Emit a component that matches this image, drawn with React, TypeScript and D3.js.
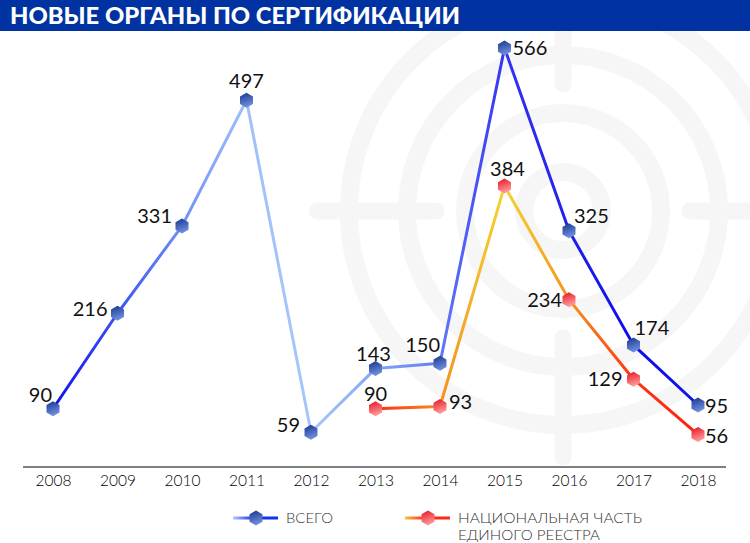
import React, { useEffect, useRef } from "react";
import * as d3 from "d3";

// data
const years = ["2008", "2009", "2010", "2011", "2012", "2013", "2014", "2015", "2016", "2017", "2018"];
const totalValues = [90, 216, 331, 497, 59, 143, 150, 566, 325, 174, 95];
const nationalYears = ["2013", "2014", "2015", "2016", "2017", "2018"];
const nationalValues = [90, 93, 384, 234, 129, 56];

const titleText = "НОВЫЕ ОРГАНЫ ПО СЕРТИФИКАЦИИ";
const totalName = "ВСЕГО";
const nationalName = ["НАЦИОНАЛЬНАЯ ЧАСТЬ", "ЕДИНОГО РЕЕСТРА"];

// line colour at each point (segments fade between them)
const totalColors = ["#1010ee", "#3a52f5", "#6f90f8", "#a0c0f9", "#a8c6fa", "#86a6f8", "#6478f6", "#3434f4", "#2020f0", "#0c0cee", "#1414e8"];
const nationalColors = ["#ff2c12", "#f5901f", "#f2d535", "#f5931f", "#ff3412", "#ff2010"];

// label placement: [dx, dy, anchor]
const totalLabelPos: [number, number, string][] = [
  [-1, -7, "end"], [-10, 3, "end"], [-10, -3, "end"], [0, -12, "middle"], [-11, 0, "end"],
  [-2, -8, "middle"], [0, -11, "end"], [8, 7, "start"], [5, -8, "start"], [1, -10, "start"], [7, 8, "start"],
];
const nationalLabelPos: [number, number, string][] = [
  [0, -8, "middle"], [9, 2, "start"], [3, -10, "middle"], [-7, 7, "end"], [-11, 7, "end"], [7, 8, "start"],
];

const W = 750;
const H = 543;
const FONT = "Lato, 'Open Sans', 'DejaVu Sans', sans-serif";

const hexPath = (r: number) => {
  const pts = d3.range(6).map((k) => {
    const a = ((-90 + 60 * k) * Math.PI) / 180;
    return [r * Math.cos(a), r * Math.sin(a)];
  });
  return "M" + pts.map((p) => p.join(",")).join("L") + "Z";
};

const App = () => {
  const ref = useRef<SVGSVGElement>(null);

  useEffect(() => {
    const svg = d3.select(ref.current);
    svg.selectAll("*").remove();

    const x = d3.scalePoint().domain(years).range([53, 698]);
    const y = d3.scaleLinear().domain([0, 566]).range([477, 48]);

    const defs = svg.append("defs");
    const addVGrad = (id: string, top: string, bottom: string) => {
      const g = defs.append("linearGradient").attr("id", id).attr("x1", 0).attr("y1", 0).attr("x2", 0.3).attr("y2", 1);
      g.append("stop").attr("offset", "0%").attr("stop-color", top);
      g.append("stop").attr("offset", "100%").attr("stop-color", bottom);
    };
    addVGrad("hexBlue", "#17338f", "#6f8fdc");
    addVGrad("hexRed", "#e4121e", "#ff9a9a");

    svg.append("rect").attr("width", W).attr("height", H).attr("fill", "#ffffff");

    // target watermark
    const wm = svg.append("g").attr("stroke", "#f6f6f6").attr("stroke-width", 18).attr("fill", "none");
    const cx = 563, cy = 211;
    [39, 98, 156, 214].forEach((r) => wm.append("circle").attr("cx", cx).attr("cy", cy).attr("r", r));
    [[-1, 0], [1, 0], [0, -1], [0, 1]].forEach(([dx, dy]) => {
      wm.append("line")
        .attr("x1", cx + dx * 127).attr("y1", cy + dy * 127)
        .attr("x2", cx + dx * 246).attr("y2", cy + dy * 246)
        .attr("stroke-width", 17)
        .attr("stroke-linecap", "round");
    });

    // header
    svg.append("rect").attr("x", 0).attr("y", 0).attr("width", W).attr("height", 31).attr("fill", "#0033a1");
    svg.append("text")
      .attr("x", 10).attr("y", 24)
      .attr("fill", "#ffffff")
      .attr("font-family", FONT)
      .attr("font-weight", 900)
      .attr("font-size", 22)
      .attr("textLength", 450)
      .attr("lengthAdjust", "spacingAndGlyphs")
      .text(titleText);

    // x axis
    svg.append("line")
      .attr("x1", (x(years[0]) as number) - 30).attr("x2", (x(years[years.length - 1]) as number) + 28)
      .attr("y1", 467).attr("y2", 467)
      .attr("stroke", "#555").attr("stroke-width", 1.5);
    const axis = svg.append("g")
      .attr("transform", "translate(0,467)")
      .call(d3.axisBottom(x).tickSize(0).tickPadding(8));
    axis.select(".domain").remove();
    axis.selectAll("text")
      .attr("font-family", FONT)
      .attr("font-weight", 300)
      .attr("font-size", 15.5)
      .attr("fill", "#000");

    const drawSeries = (
      name: string,
      cats: string[],
      vals: number[],
      colors: string[],
      hex: string,
      labelPos: [number, number, string][]
    ) => {
      const pts = cats.map((c, i) => [x(c) as number, y(vals[i])]);
      const g = svg.append("g");
      for (let i = 0; i < pts.length - 1; i++) {
        const id = `${name}Seg${i}`;
        const grad = defs.append("linearGradient")
          .attr("id", id)
          .attr("gradientUnits", "userSpaceOnUse")
          .attr("x1", pts[i][0]).attr("y1", pts[i][1])
          .attr("x2", pts[i + 1][0]).attr("y2", pts[i + 1][1]);
        grad.append("stop").attr("offset", "0%").attr("stop-color", colors[i]);
        grad.append("stop").attr("offset", "100%").attr("stop-color", colors[i + 1]);
        g.append("line")
          .attr("x1", pts[i][0]).attr("y1", pts[i][1])
          .attr("x2", pts[i + 1][0]).attr("y2", pts[i + 1][1])
          .attr("stroke", `url(#${id})`)
          .attr("stroke-width", 3)
          .attr("stroke-linecap", "round");
      }
      g.selectAll("path.hex")
        .data(pts)
        .enter()
        .append("path")
        .attr("class", "hex")
        .attr("d", hexPath(7.5))
        .attr("transform", (d) => `translate(${d[0]},${d[1]})`)
        .attr("fill", `url(#${hex})`);
      g.selectAll("text.val")
        .data(vals)
        .enter()
        .append("text")
        .attr("class", "val")
        .attr("x", (d, i) => pts[i][0] + labelPos[i][0])
        .attr("y", (d, i) => pts[i][1] + labelPos[i][1])
        .attr("text-anchor", (d, i) => labelPos[i][2])
        .attr("font-family", FONT)
        .attr("font-size", 20)
        .attr("fill", "#111")
        .text((d) => d);
    };

    drawSeries("total", years, totalValues, totalColors, "hexBlue", totalLabelPos);
    drawSeries("nat", nationalYears, nationalValues, nationalColors, "hexRed", nationalLabelPos);

    // legend
    const legendItem = (x0: number, c1: string, c2: string, hex: string, lines: string[], widths: number[], id: string) => {
      const grad = defs.append("linearGradient").attr("id", id).attr("x1", 0).attr("x2", 1).attr("y1", 0).attr("y2", 0);
      grad.append("stop").attr("offset", "0%").attr("stop-color", c1);
      grad.append("stop").attr("offset", "45%").attr("stop-color", c2);
      grad.append("stop").attr("offset", "100%").attr("stop-color", c2);
      svg.append("rect").attr("x", x0).attr("y", 516.5).attr("width", 45).attr("height", 3).attr("fill", `url(#${id})`);
      svg.append("path").attr("d", hexPath(7.5)).attr("transform", `translate(${x0 + 23},518)`).attr("fill", `url(#${hex})`);
      lines.forEach((t, i) => {
        svg.append("text")
          .attr("x", x0 + 53).attr("y", 523 + i * 17)
          .attr("font-family", FONT)
          .attr("font-weight", 300)
          .attr("font-size", 13.5)
          .attr("fill", "#333")
          .attr("textLength", widths[i])
          .attr("lengthAdjust", "spacingAndGlyphs")
          .text(t);
      });
    };
    legendItem(233, "#b8c8ff", "#1530f0", "hexBlue", [totalName], [47], "legBlue");
    legendItem(405, "#f7c23a", "#ff2a14", "hexRed", nationalName, [184, 142], "legRed");
  }, []);

  return (
    <svg
      ref={ref}
      width={W}
      height={H}
      style={{ position: "absolute", left: 0, top: 0, display: "block" }}
    ></svg>
  );
};

export default App;
